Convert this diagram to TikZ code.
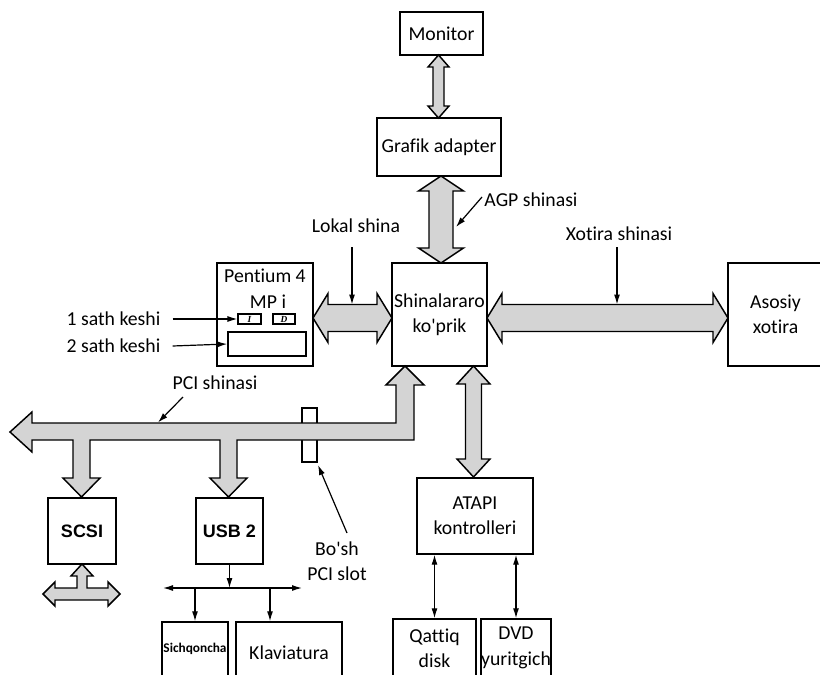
\documentclass[tikz,border=0pt]{standalone}
\usepackage{fontspec}
\setmainfont{Carlito}[Ligatures=NoCommon]
\newfontfamily\arialf{Liberation Sans}
\newfontfamily\timesf{Liberation Serif}
\usetikzlibrary{arrows.meta}
\tikzset{
  box/.style={draw, line width=1.1pt, inner sep=0pt, align=center, font=\fontsize{14.8}{19}\selectfont},
  bus/.style={draw, line width=1.1pt, fill=black!17, line join=miter},
  lbl/.style={line width=0.9pt, -{Latex[length=7.5pt,width=4.5pt]}},
  dbl/.style={line width=0.9pt, {Latex[length=7.5pt,width=4.5pt]}-{Latex[length=7.5pt,width=4.5pt]}},
  txt/.style={inner sep=0pt, align=center, font=\fontsize{14.8}{19}\selectfont},
}
\newcommand\boxnode[7][]{%
  \node[box,#1, minimum width={(#5-#3)*0.75pt}, minimum height={(#6-#4)*0.75pt}] (#2) at ({(#3+#5)/2},{(#4+#6)/2}) {#7};}
\newcommand\hbusarrow[6]{%
  \path[bus] (#1,#3) -- ({#1+#6},{#3-#5}) -- ({#1+#6},{#3-#4}) -- ({#2-#6},{#3-#4}) -- ({#2-#6},{#3-#5}) -- (#2,#3)
    -- ({#2-#6},{#3+#5}) -- ({#2-#6},{#3+#4}) -- ({#1+#6},{#3+#4}) -- ({#1+#6},{#3+#5}) -- cycle;}
\newcommand\vbusarrow[6]{%
  \path[bus] (#3,#1) -- ({#3-#5},{#1+#6}) -- ({#3-#4},{#1+#6}) -- ({#3-#4},{#2-#6}) -- ({#3-#5},{#2-#6}) -- (#3,#2)
    -- ({#3+#5},{#2-#6}) -- ({#3+#4},{#2-#6}) -- ({#3+#4},{#1+#6}) -- ({#3+#5},{#1+#6}) -- cycle;}
\begin{document}
\begin{tikzpicture}[x=0.75pt, y=-0.75pt]
\useasboundingbox (0,0) rectangle (820,674);
\clip (0,0) rectangle (820,674);
% boxes
\boxnode{mon}{400}{12}{483}{55}{Monitor}
\boxnode{gra}{377}{118}{501}{176}{Grafik adapter}
\boxnode{br}{392}{263}{487}{366}{Shinalararo\\ko\textquotesingle prik}
\boxnode{mem}{728}{263}{823}{366}{Asosiy\\xotira}
\boxnode{cpu}{217}{263}{313}{366}{}
\boxnode[line width=0.9pt, font=\timesf\bfseries\itshape\fontsize{7}{8}\selectfont]{l1i}{238}{314}{261}{324}{I}
\boxnode[line width=0.9pt, font=\timesf\bfseries\itshape\fontsize{7}{8}\selectfont]{l1d}{273}{314}{295}{324}{D}
\boxnode{l2}{228}{332}{306}{356}{}
\boxnode[font=\arialf\bfseries\fontsize{13.5}{16}\selectfont]{scsi}{48}{498}{116}{564}{SCSI}
\boxnode[font=\arialf\bfseries\fontsize{13.5}{16}\selectfont]{usb}{196}{498}{263}{564}{USB 2}
\boxnode[font=\bfseries\fontsize{10}{12}\selectfont]{mouse}{162}{622}{228}{676}{Sichqoncha}
\boxnode{klav}{236}{622}{342}{684}{Klaviatura}
\boxnode{hdd}{393}{619}{476}{677}{Qattiq\\disk}
\boxnode{dvd}{481}{619}{551}{677}{DVD\\yuritgich}
\boxnode{atapi}{417}{478}{533}{554}{ATAPI\\kontrolleri}
\boxnode[line width=1pt]{slot}{302}{408}{317}{462}{}
% cpu texts
\node[txt] (p4) at (265,276) {Pentium 4};
\node[txt] (mpi) at (268,302) {MP i};
% fat arrows
\vbusarrow{55}{118}{438.5}{5.5}{10.5}{12}
\vbusarrow{176}{263}{441}{12}{22.5}{15}
\hbusarrow{313}{392}{318}{13.5}{24.5}{15}
\hbusarrow{487}{728}{318}{13.5}{24.5}{15}
\vbusarrow{366}{477}{473.5}{8}{16.5}{18}
% PCI bus
\path[bus] (10,432) -- (32,412) -- (32,423) -- (396,423) -- (396,385) -- (386,385) -- (405,366) -- (424,385) -- (414,385)
  -- (414,440) -- (237,440) -- (237,478) -- (247,478) -- (228.5,497) -- (210,478) -- (220,478) -- (220,440)
  -- (90,440) -- (90,478) -- (100,478) -- (81.5,497) -- (63,478) -- (73,478) -- (73,440) -- (32,440) -- (32,452) -- cycle;
% SCSI external arrow
\path[bus] (43,594) -- (55,582) -- (55,588) -- (77,588) -- (77,576) -- (71,576) -- (82,564) -- (93,576) -- (87,576)
  -- (87,588) -- (108,588) -- (108,582) -- (120,594) -- (108,606) -- (108,600) -- (55,600) -- (55,606) -- cycle;
% labels
\node[txt] (lokal) at (356,226) {Lokal shina};
\node[txt] (xot) at (619,234) {Xotira shinasi};
\node[txt] (agp) at (531,200) {AGP shinasi};
\node[txt] (pci) at (215,383) {PCI shinasi};
\node[txt] (bosh) at (337,561) {Bo\textquotesingle sh\\PCI slot};
\node[txt] (s1) at (113.5,319) {1 sath keshi};
\node[txt] (s2) at (113.5,346) {2 sath keshi};
\coordinate (lk1) at (352,247); \coordinate (lk2) at (352,304.5);
\coordinate (xo1) at (617,247); \coordinate (xo2) at (617,304.5);
\coordinate (ag1) at (482,197); \coordinate (ag2) at (456,227);
\coordinate (pc1) at (183,397); \coordinate (pc2) at (158,422.5);
\coordinate (bs1) at (347,533); \coordinate (bs2) at (318,465);
\draw[lbl] (lk1) -- (lk2);
\draw[lbl] (xo1) -- (xo2);
\draw[lbl] (ag1) -- (ag2);
\draw[lbl] (pc1) -- (pc2);
\draw[lbl] (bs1) -- (bs2);
\draw[lbl] ([xshift=9pt]s1.east) -- (l1i.west);
\draw[lbl] ([xshift=9pt]s2.east) -- (l2.west);
% USB connections
\coordinate (uj) at (229.5,588);
\coordinate (ul) at (163,588);
\coordinate (ur) at (302,588);
\coordinate (kj) at (270,588);
\draw[lbl] (usb.south) -- (uj);
\draw[dbl] (ul) -- (ur);
\draw[lbl] (mouse.north |- uj) -- (mouse.north);
\draw[lbl] (kj) -- (kj |- klav.north);
% ATAPI connections
\draw[dbl] (hdd.north |- atapi.south) -- (hdd.north);
\draw[dbl] (dvd.north |- atapi.south) -- (dvd.north);
\end{tikzpicture}
\end{document}
